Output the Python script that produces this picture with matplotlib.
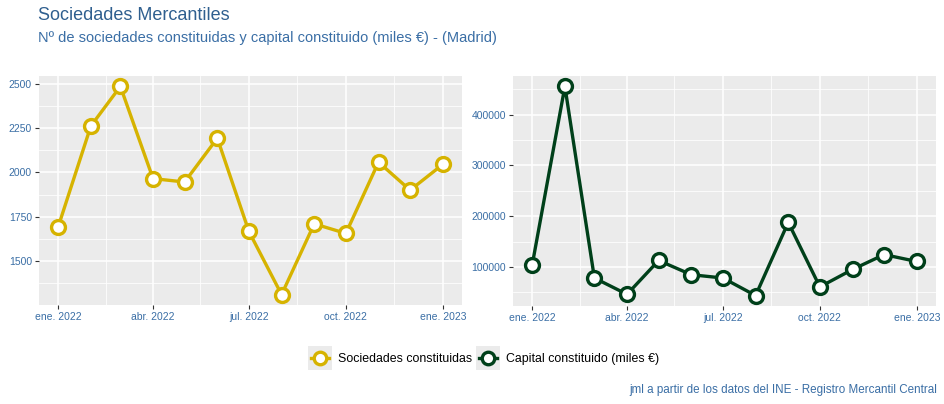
import matplotlib
matplotlib.use("Agg")
import matplotlib.pyplot as plt
import matplotlib.dates as mdates
from matplotlib.legend_handler import HandlerLine2D
from matplotlib.patches import Rectangle
from matplotlib.lines import Line2D
import numpy as np
import pandas as pd

plt.rcParams['font.family'] = ['Liberation Sans', 'DejaVu Sans']

months = pd.date_range("2022-01-01", "2023-01-01", freq="MS")
sociedades = [1694, 2262, 2485, 1965, 1946, 2193, 1667, 1311, 1710, 1656, 2058, 1900, 2045]
capital = [104500, 455400, 78500, 46400, 113000, 85000, 78500, 44000, 188000, 61000, 95300, 124600, 111000]

tick_dates = pd.to_datetime(["2022-01-01", "2022-04-01", "2022-07-01", "2022-10-01", "2023-01-01"])
tick_labels = ["ene. 2022", "abr. 2022", "jul. 2022", "oct. 2022", "ene. 2023"]
minor_dates = pd.to_datetime(["2022-02-15", "2022-05-16", "2022-08-16", "2022-11-16"])

left_ticks = [1500, 1750, 2000, 2250, 2500]
left_minor = [1375, 1625, 1875, 2125, 2375]
right_ticks = [100000, 200000, 300000, 400000]
right_minor = [50000, 150000, 250000, 350000, 450000]

title = "Sociedades Mercantiles"
subtitle = "Nº de sociedades constituidas y capital constituido (miles €) - (Madrid)"
caption = "jml a partir de los datos del INE - Registro Mercantil Central"
series_names = ["Sociedades constituidas", "Capital constituido (miles €)"]

YELLOW = "#D6B300"
GREEN = "#00401A"
BLUE = "#3A6EA5"
PANEL = "#EBEBEB"

fig = plt.figure(figsize=(9.44, 4.04), dpi=100)
W, H = 944, 404

def add_ax(x0, x1, y0, y1):
    return fig.add_axes([x0 / W, 1 - y1 / H, (x1 - x0) / W, (y1 - y0) / H])

axL = add_ax(39, 462, 76, 305)
axR = add_ax(513, 936, 76, 306)

def style(ax, values, color, yticks, yminor):
    ax.set_facecolor(PANEL)
    x = mdates.date2num(months)
    ax.plot(x, values, color=color, lw=2.4, marker='o', ms=10, mfc='white',
            mec=color, mew=2.4, zorder=3, solid_joinstyle='miter')
    xr = x[-1] - x[0]
    ax.set_xlim(x[0] - 0.05 * xr, x[-1] + 0.05 * xr)
    vmin, vmax = min(values), max(values)
    vr = vmax - vmin
    ax.set_ylim(vmin - 0.05 * vr, vmax + 0.05 * vr)
    ax.set_xticks(mdates.date2num(tick_dates))
    ax.set_xticklabels(tick_labels)
    ax.set_xticks(mdates.date2num(minor_dates), minor=True)
    ax.set_yticks(yticks)
    ax.set_yticklabels([str(v) for v in yticks])
    ax.set_yticks(yminor, minor=True)
    ax.grid(True, which='major', color='white', lw=1.1, zorder=0)
    ax.grid(True, which='minor', color='white', lw=0.55, zorder=0)
    ax.set_axisbelow(True)
    for s in ax.spines.values():
        s.set_visible(False)
    ax.tick_params(which='major', length=3, width=0.8, color='#333333',
                   labelsize=7.5, labelcolor=BLUE, pad=2)
    ax.tick_params(which='minor', length=0)

style(axL, sociedades, YELLOW, left_ticks, left_minor)
style(axR, capital, GREEN, right_ticks, right_minor)

fig.text(38 / W, 1 - 16 / H, title, fontsize=13, color="#2F5F8F", va='center', ha='left')
fig.text(38 / W, 1 - 38 / H, subtitle, fontsize=10.5, color=BLUE, va='center', ha='left')
fig.text(937 / W, 1 - 390 / H, caption, fontsize=8.4, color=BLUE, va='center', ha='right')

KEY = 17.3  # key square side, points

class KeyHandler(HandlerLine2D):
    def create_artists(self, legend, orig_handle, xdescent, ydescent, width, height, fontsize, trans):
        cx = width / 2 - xdescent
        cy = height / 2 - ydescent
        rect = Rectangle((cx - KEY / 2, cy - KEY / 2), KEY, KEY,
                         facecolor=PANEL, edgecolor='none', transform=trans)
        arts = super().create_artists(legend, orig_handle, xdescent, ydescent, width, height, fontsize, trans)
        return [rect] + list(arts)

handles = [
    Line2D([], [], color=YELLOW, lw=2.4, marker='o', ms=9, mfc='white', mec=YELLOW, mew=2.4),
    Line2D([], [], color=GREEN, lw=2.4, marker='o', ms=9, mfc='white', mec=GREEN, mew=2.4),
]
fig.legend(handles, series_names, loc='center', bbox_to_anchor=(485 / W, 1 - 359 / H),
           ncol=2, frameon=False, fontsize=8.9, handlelength=1.5, handletextpad=0.7,
           columnspacing=0.55, handler_map={Line2D: KeyHandler()})

fig.savefig("out.png", dpi=100)
